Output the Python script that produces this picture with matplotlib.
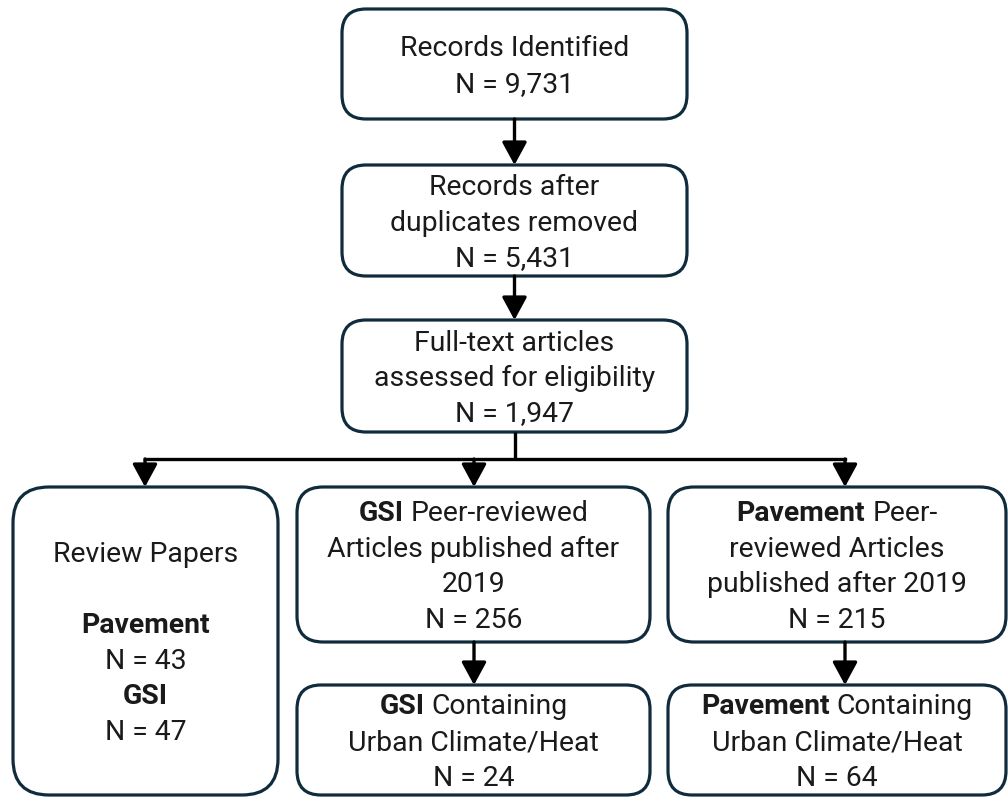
import matplotlib
matplotlib.use('Agg')
import matplotlib.pyplot as plt
from matplotlib.patches import FancyBboxPatch, FancyArrowPatch

# ---- data ----
n_identified = 9731
n_dedup = 5431
n_fulltext = 1947
n_review_pavement = 43
n_review_gsi = 47
n_gsi_peer = 256
n_pav_peer = 215
n_gsi_heat = 24
n_pav_heat = 64

def fmt(n):
    return f"N = {n:,}"

# box: (x0, y0, x1, y1, radius, lines) ; line = list of (text, bold)
boxes = [
    (342, 9, 687, 119, 24, [[("Records Identified", False)], [(fmt(n_identified), False)]]),
    (342, 165, 687, 276, 24, [[("Records after", False)], [("duplicates removed", False)], [(fmt(n_dedup), False)]]),
    (342, 320, 687, 432, 24, [[("Full-text articles", False)], [("assessed for eligibility", False)], [(fmt(n_fulltext), False)]]),
    (13, 487, 278, 795, 36, [[("Review Papers", False)], [], [("Pavement", True)], [(fmt(n_review_pavement), False)],
                             [("GSI", True)], [(fmt(n_review_gsi), False)]]),
    (297, 487, 650, 642, 26, [[("GSI", True), ("Peer-reviewed", False)], [("Articles published after", False)],
                              [("2019", False)], [(fmt(n_gsi_peer), False)]]),
    (668, 487, 1006, 642, 26, [[("Pavement", True), ("Peer-", False)], [("reviewed Articles", False)],
                               [("published after 2019", False)], [(fmt(n_pav_peer), False)]]),
    (297, 685, 650, 795, 24, [[("GSI", True), ("Containing", False)], [("Urban Climate/Heat", False)], [(fmt(n_gsi_heat), False)]]),
    (668, 685, 1006, 795, 24, [[("Pavement", True), ("Containing", False)], [("Urban Climate/Heat", False)], [(fmt(n_pav_heat), False)]]),
]

W, H = 1008, 797
FONT = ['Roboto', 'DejaVu Sans']
FS = 20.4
EDGE = '#0f2b3c'
TXT = '#1a1a1a'
LS = 35.5

fig = plt.figure(figsize=(W / 100, H / 100), dpi=100)
ax = fig.add_axes([0, 0, 1, 1])
ax.set_xlim(0, W)
ax.set_ylim(H, 0)
ax.axis('off')
renderer = fig.canvas.get_renderer()

def text_w(s, bold):
    t = ax.text(0, 0, s, fontsize=FS, family=FONT, fontweight='bold' if bold else 'normal')
    w = t.get_window_extent(renderer).width
    t.remove()
    return w

space_w = text_w("a a", False) - text_w("aa", False)

for (x0, y0, x1, y1, r, lines) in boxes:
    p = FancyBboxPatch((x0 + r, y0 + r), (x1 - x0) - 2 * r, (y1 - y0) - 2 * r,
                       boxstyle=f"round,pad={r},rounding_size={r}",
                       fc='white', ec=EDGE, lw=2.3, zorder=2)
    ax.add_patch(p)
    cx = (x0 + x1) / 2
    cy = (y0 + y1) / 2 + 1
    n = len(lines)
    for i, segs in enumerate(lines):
        if not segs:
            continue
        base = cy + (i - (n - 1) / 2) * LS + 9
        widths = [text_w(s, b) for s, b in segs]
        total = sum(widths) + space_w * (len(segs) - 1)
        x = cx - total / 2
        for (s, b), w in zip(segs, widths):
            ax.text(x, base, s, fontsize=FS, family=FONT, color=TXT,
                    fontweight='bold' if b else 'normal', ha='left', va='baseline', zorder=3)
            x += w + space_w

LW = 2.4
def arrow(x, ya, yb):
    a = FancyArrowPatch((x, ya), (x, yb), arrowstyle='-|>,head_length=0.7,head_width=0.38',
                        mutation_scale=20, lw=LW, color='black', shrinkA=0, shrinkB=0, zorder=4)
    ax.add_patch(a)

cxm = (342 + 687) / 2
arrow(cxm, 119, 165)
arrow(cxm, 276, 320)
# branch
ybr = 459
ax.plot([cxm, cxm], [432, ybr], color='black', lw=LW, solid_capstyle='butt', zorder=4)
ax.plot([145, 845], [ybr, ybr], color='black', lw=LW, solid_capstyle='projecting', zorder=4)
for xb in [145, 474, 845]:
    arrow(xb, ybr, 487)
arrow(474, 642, 685)
arrow(845, 642, 685)

fig.savefig('out.png', dpi=100, facecolor='white')
